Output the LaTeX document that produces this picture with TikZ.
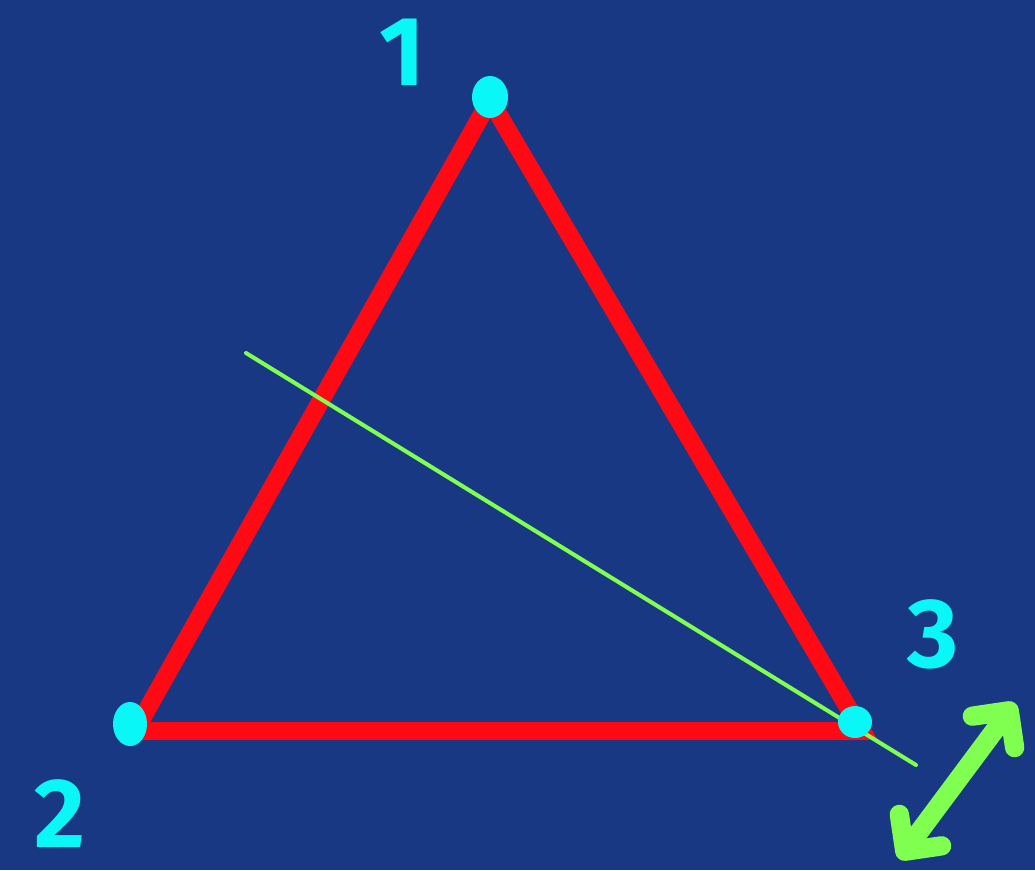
\documentclass[tikz,border=0pt]{standalone}
\usepackage{fontspec}
\newfontfamily\labelfont{Fira Sans}
\usetikzlibrary{arrows.meta}
\definecolor{bg}{RGB}{24,56,132}
\definecolor{tri}{RGB}{255,10,20}
\definecolor{dot}{RGB}{10,247,247}
\definecolor{gr}{RGB}{128,255,80}
\tikzset{
  edge/.style={draw=tri, line width=10.2pt, line cap=round, line join=miter},
  vdot/.style={fill=dot, draw=none},
  lbl/.style={text=dot, font=\labelfont\bfseries\fontsize{56}{56}\selectfont, inner sep=0pt},
  thin green/.style={draw=gr, line width=2.3pt, line cap=round},
  dbl/.style={draw=gr, line width=11pt, line cap=round, line join=round,
    {Straight Barb[length=15pt, width=30pt, round]}-{Straight Barb[length=15pt, width=30pt, round]}}
}
\begin{document}
\begin{tikzpicture}[x=0.02cm, y=-0.02cm]
\fill[bg] (0,0) rectangle (1035,870);
\useasboundingbox (0,0) rectangle (1035,870);
\coordinate (A) at (490,100);
\coordinate (B) at (135,731);
\coordinate (C) at (862,731);
\draw[edge] (A) -- (B) -- (C) -- cycle;
\coordinate (G1) at (246,353);
\coordinate (G2) at (916,765);
\draw[thin green] (G1) -- (G2);
\fill[vdot] (490,97) ellipse (18 and 21);
\fill[vdot] (130,724) ellipse (17 and 22);
\fill[vdot] (855,722) ellipse (17 and 16);
\node[lbl] (l1) at (402,52) {1};
\node[lbl] (l2) at (60,814) {2};
\node[lbl] (l3) at (933,634) {3};
\coordinate (D1) at (899,859);
\coordinate (D2) at (1015,703);
\draw[dbl] (D1) -- (D2);
\end{tikzpicture}
\end{document}
